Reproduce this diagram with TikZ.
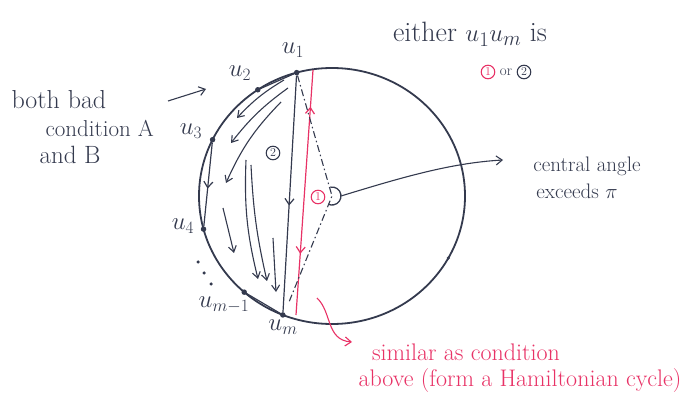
\documentclass[tikz,border=0pt]{standalone}
\usepackage{tikz}
\usetikzlibrary{arrows.meta}
\usetikzlibrary{decorations.markings}
\usetikzlibrary{calc}
\definecolor{ink}{RGB}{52,58,78}
\definecolor{redink}{RGB}{232,50,102}
\tikzset{
    circline/.style={draw=ink, line width=1.8pt},
    chord/.style={draw=ink, line width=1.2pt},
    fanarrow/.style={-{Straight Barb[length=6pt,width=8pt]}, draw=ink, line width=1.1pt},
    openarrow/.style={-{Straight Barb[length=6pt,width=9pt]}, line width=1.1pt},
    redline/.style={draw=redink, color=redink, line width=1.2pt},
    dashdot/.style={draw=ink, line width=1.1pt, dash pattern=on 7pt off 3pt on 1.5pt off 3pt},
    vdot/.style={circle, fill=ink, inner sep=0pt, minimum size=5.5pt},
    sdot/.style={circle, fill=ink, inner sep=0pt, minimum size=3.5pt},
    midtip/.style={postaction={decorate, decoration={markings, mark=at position #1 with {\arrow{Straight Barb[length=6pt,width=9pt]}}}}},
    backtip/.style={postaction={decorate, decoration={markings, mark=at position #1 with {\arrowreversed{Straight Barb[length=6pt,width=9pt]}}}}},
    numcirc/.style={circle, draw, line width=1.1pt, inner sep=1.3pt, font=\fontsize{12}{13}\selectfont},
    hand/.style={font=\fontsize{23}{27}\selectfont, text=ink},
    redhand/.style={font=\fontsize{24}{28}\selectfont, text=redink}
}

\begin{document}
\begin{tikzpicture}[x=1pt, y=-1pt]
    \useasboundingbox (0,0) rectangle (683,398);
    \coordinate (c) at (332,196);
    \draw[circline] (c) ellipse [x radius=133pt, y radius=128pt];

    % points on the cycle
    \node[vdot] (u1) at ($(c)+(-105.4:133 and 128)$) {};
    \node[vdot] (u2) at ($(c)+(-123.9:133 and 128)$) {};
    \node[vdot] (u3) at ($(c)+(-153.9:133 and 128)$) {};
    \node[vdot] (u4) at ($(c)+(-195:133 and 128)$) {};
    \node[vdot] (um1) at ($(c)+(-228.7:133 and 128)$) {};
    \node[vdot] (um) at ($(c)+(-248.3:133 and 128)$) {};
    \node[sdot] (rdot) at ($(c)+(29:133 and 128)$) {};
    \node[sdot] (dd1) at (198,262) {};
    \node[sdot] (dd2) at (204,273) {};
    \node[sdot] (dd3) at (211,284) {};

    \node[hand] (lu1) at (293,50) {$u_1$};
    \node[hand] (lu2) at (240,73) {$u_2$};
    \node[hand] (lu3) at (191,131) {$u_3$};
    \node[hand] (lu4) at (183,226) {$u_4$};
    \node[hand] (lum1) at (224,305) {$u_{m-1}$};
    \node[hand] (lum) at (283,327) {$u_m$};

    % chords
    \draw[chord] (u1) -- (u2);
    \draw[chord, midtip=0.55] (u3) -- (u4);
    \draw[chord, midtip=0.55] (u1) -- (um);
    \draw[chord] (um1) -- (um);

    % fan of arrows
    \coordinate (s1) at (284,80);
    \coordinate (e1) at (237,118);
    \coordinate (s2) at (288,88);
    \coordinate (e2) at (231,143);
    \coordinate (s3) at (281,102);
    \coordinate (e3) at (226,183);
    \coordinate (s4) at (246,160);
    \coordinate (e4) at (258,279);
    \coordinate (s5) at (223,208);
    \coordinate (e5) at (234,253);
    \coordinate (s6) at (251,165);
    \coordinate (e6) at (267,281);
    \coordinate (s7) at (273,238);
    \coordinate (e7) at (276,292);
    \draw[fanarrow] (s1) to[bend right=8] (e1);
    \draw[fanarrow] (s2) to[bend right=8] (e2);
    \draw[fanarrow] (s3) to[bend right=10] (e3);
    \draw[fanarrow] (s4) to[bend right=8] (e4);
    \draw[fanarrow] (s5) -- (e5);
    \draw[fanarrow] (s6) to[bend right=5] (e6);
    \draw[fanarrow] (s7) -- (e7);

    % red edge and the central angle
    \coordinate (r1) at (313,70);
    \coordinate (r2) at (296,315);
    \draw[redline, backtip=0.15, midtip=0.75] (r1) -- (r2);
    \coordinate (dend) at (289,302);
    \draw[dashdot] (u1) -- (c) -- (dend);
    \draw[ink, line width=1.3pt] ($(c)+(100:9pt)$) arc[start angle=100, end angle=-115, radius=9pt];
    \coordinate (ang) at ($(c)+(0:9pt)$);
    \coordinate (tipc) at (503,160);
    \draw[openarrow, ink] (ang) .. controls (400,178) and (450,163) .. (tipc);

    \node[numcirc, draw=ink, text=ink] (twoin) at (273,153) {2};
    \node[numcirc, draw=redink, text=redink] (onein) at (318,197) {1};

    % notes
    \node[hand, anchor=west, font=\fontsize{26}{30}\selectfont] (both) at (8,100) {both bad};
    \node[hand, anchor=west, font=\fontsize{23}{27}\selectfont] (cond) at (42,128) {condition A};
    \node[hand, anchor=west, font=\fontsize{25}{29}\selectfont] (andb) at (36,155) {and B};
    \coordinate (bs) at (168,101);
    \coordinate (be) at (206,89);
    \draw[openarrow, ink] (bs) -- (be);

    \node[hand, font=\fontsize{28}{31}\selectfont] (either) at (470,34) {either $u_1u_m$ is};
    \node[numcirc, draw=redink, text=redink] (one) at (488,72) {1};
    \node[hand, font=\fontsize{15}{17}\selectfont] (or) at (506,72) {or};
    \node[numcirc, draw=ink, text=ink] (two) at (524,72) {2};

    \node[hand, font=\fontsize{21}{25}\selectfont] (cangle) at (587,166) {central angle};
    \node[hand, font=\fontsize{21}{25}\selectfont] (exc) at (577,191) {exceeds $\pi$};

    \coordinate (rs) at (317,298);
    \coordinate (re) at (352,342);
    \draw[openarrow, redink] (rs) .. controls (332,312) and (326,340) .. (re);
    \node[redhand] (sim) at (466,352) {similar as condition};
    \node[redhand] (abv) at (520,381) {above (form a Hamiltonian cycle)};
\end{tikzpicture}
\end{document}
